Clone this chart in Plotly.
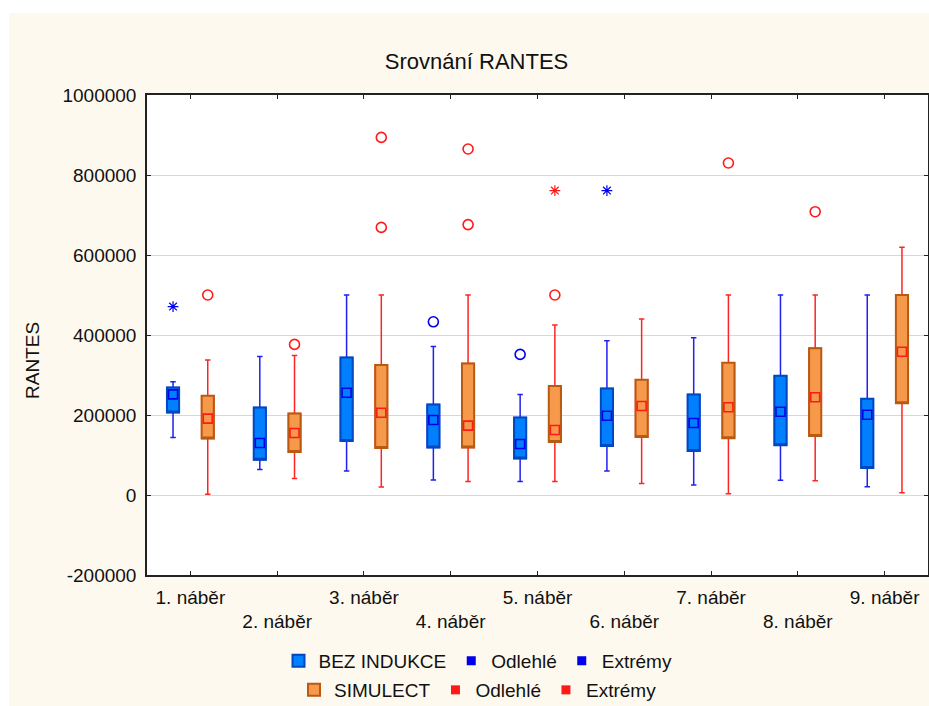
import plotly.graph_objects as go

# Sampling rounds (x axis categories)
categories = ["1. náběr", "2. náběr", "3. náběr", "4. náběr", "5. náběr",
              "6. náběr", "7. náběr", "8. náběr", "9. náběr"]

# BEZ INDUKCE: non-outlier range, quartiles and median per round
bez_min = [144000, 64000, 60000, 37500, 33500, 60000, 25000, 36700, 20800]
bez_q1 = [206500, 88000, 135000, 119000, 91500, 122500, 110000, 124200, 67500]
bez_median = [251500, 130000, 255800, 187500, 127500, 198300, 180000, 208300, 200800]
bez_q3 = [269000, 218500, 344000, 226500, 194000, 266500, 251500, 298300, 240800]
bez_max = [283000, 346000, 500000, 371000, 251500, 385800, 393300, 500000, 500000]
bez_outlier_round = [4, 5]
bez_outlier_value = [433000, 351500]
bez_extreme_round = [1, 6]
bez_extreme_value = [471000, 761000]

# SIMULECT
sim_min = [2000, 41500, 20000, 33500, 33500, 29000, 3300, 35800, 5800]
sim_q1 = [141500, 107500, 117500, 119000, 132500, 145000, 141700, 147500, 229200]
sim_median = [191000, 155000, 205800, 173500, 162500, 222500, 219200, 244200, 358300]
sim_q3 = [248000, 203500, 325000, 328500, 272500, 288300, 330800, 366700, 500000]
sim_max = [337500, 348500, 500000, 500000, 425000, 440000, 500000, 500000, 619200]
sim_outlier_round = [1, 2, 3, 3, 4, 4, 5, 7, 8]
sim_outlier_value = [500000, 376500, 894000, 669000, 865000, 676000, 500000, 830000, 708300]
sim_extreme_round = [5]
sim_extreme_value = [761000]

# y axis ticks
y_tick_values = [-200000, 0, 200000, 400000, 600000, 800000, 1000000]
y_tick_labels = [str(v) for v in y_tick_values]

FONT = "Liberation Sans, Arial, sans-serif"
BOX_W = 0.14
CREAM = "#FEF9EE"

fig = go.Figure()


def add_series(name, legend, offset, mins, q1, med, q3, maxs,
               out_round, out_val, ext_round, ext_val,
               fill, edge, whisker, point):
    xs = [i + offset for i in range(len(categories))]
    # whiskers (box body hidden under the next trace)
    fig.add_trace(go.Box(
        x=xs, q1=q1, median=med, q3=q3, lowerfence=mins, upperfence=maxs,
        width=BOX_W, whiskerwidth=0.45, boxpoints=False,
        line=dict(color=whisker, width=1.5), fillcolor=fill,
        showlegend=False, hoverinfo="skip"))
    # quartile box with dark outline
    fig.add_trace(go.Box(
        x=xs, q1=q1, median=q1, q3=q3, lowerfence=q1, upperfence=q3,
        width=BOX_W, whiskerwidth=0, boxpoints=False,
        line=dict(color=edge, width=2), fillcolor=fill,
        name=name, legend=legend, hoverinfo="skip"))
    # median marker
    fig.add_trace(go.Scatter(
        x=xs, y=med, mode="markers",
        marker=dict(symbol="square", size=9, color=fill,
                    line=dict(color=point, width=1.6)),
        showlegend=False))
    # outliers and extremes
    fig.add_trace(go.Scatter(
        x=[r - 1 + offset for r in out_round], y=out_val, mode="markers",
        marker=dict(symbol="circle-open", size=10, color=point,
                    line=dict(color=point, width=1.6)),
        showlegend=False))
    fig.add_trace(go.Scatter(
        x=[r - 1 + offset for r in ext_round], y=ext_val, mode="markers",
        marker=dict(symbol="asterisk-open", size=9, color=point,
                    line=dict(color=point, width=1.2)),
        showlegend=False))
    # legend entries for the point categories
    for label in ["Odlehlé", "Extrémy"]:
        fig.add_trace(go.Scatter(
            x=[None], y=[None], mode="markers", name=label, legend=legend,
            marker=dict(symbol="square", size=9, color=point)))


add_series("BEZ INDUKCE", "legend", -0.2,
           bez_min, bez_q1, bez_median, bez_q3, bez_max,
           bez_outlier_round, bez_outlier_value,
           bez_extreme_round, bez_extreme_value,
           fill="#0080FF", edge="#0048C0", whisker="#2020F0", point="#0000EE")
add_series("SIMULECT", "legend2", 0.2,
           sim_min, sim_q1, sim_median, sim_q3, sim_max,
           sim_outlier_round, sim_outlier_value,
           sim_extreme_round, sim_extreme_value,
           fill="#F7994A", edge="#B85A10", whisker="#FF2424", point="#FF1A1A")

# two-row x labels: even rounds drop to the second line
x_tick_text = [c if i % 2 == 0 else "<br>" + c for i, c in enumerate(categories)]

legend_style = dict(orientation="h", xanchor="center", yanchor="middle",
                    xref="container", yref="container",
                    bgcolor="rgba(0,0,0,0)", font=dict(family=FONT, size=19, color="#111"),
                    itemsizing="trace", traceorder="normal")

fig.update_layout(
    width=929, height=706,
    margin=dict(l=147, r=1, t=95, b=131, autoexpand=False),
    paper_bgcolor=CREAM, plot_bgcolor="white",
    boxmode="overlay",
    font=dict(family=FONT, size=19, color="#111"),
    title=dict(text="Srovnání RANTES", x=0.513, xanchor="center",
               y=1 - 61 / 706, yanchor="middle",
               font=dict(family=FONT, size=22, color="#111")),
    xaxis=dict(range=[-0.5, 8.5], tickvals=list(range(len(categories))),
               ticktext=x_tick_text, ticks="inside", ticklen=4, tickwidth=1,
               tickcolor="#222", showline=True, linecolor="#222", linewidth=1.5,
               mirror="ticks", showgrid=False, zeroline=False, ticklabelstandoff=4,
               tickfont=dict(family=FONT, size=19, color="#111")),
    yaxis=dict(range=[-200000, 1000000], tickvals=y_tick_values,
               ticktext=y_tick_labels, ticks="inside", ticklen=4, tickwidth=1,
               tickcolor="#222", showline=True, linecolor="#222", linewidth=1.5,
               mirror="ticks", showgrid=True, gridcolor="#D8D8D8", gridwidth=1,
               zeroline=False, ticklabelstandoff=5,
               tickfont=dict(family=FONT, size=19, color="#111")),
    legend=dict(x=478 / 929, y=1 - 661 / 706, **legend_style),
    legend2=dict(x=478 / 929, y=1 - 690 / 706, **legend_style),
    showlegend=True,
    annotations=[dict(text="RANTES", textangle=-90, xref="paper", yref="paper",
                      x=(33 - 147) / 781, y=(575 - 360) / 480,
                      xanchor="center", yanchor="middle", showarrow=False,
                      font=dict(family=FONT, size=19, color="#111"))],
    shapes=[
        # white page border along the top and left edges
        dict(type="rect", xref="paper", yref="paper", x0=-0.25, x1=1.05,
             y0=(575 - 13) / 480, y1=1.4, fillcolor="white", line_width=0, layer="below"),
        dict(type="rect", xref="paper", yref="paper", x0=-0.25, x1=(9 - 147) / 781,
             y0=-0.4, y1=1.4, fillcolor="white", line_width=0, layer="below"),
    ],
)

fig.write_html("out.html")
